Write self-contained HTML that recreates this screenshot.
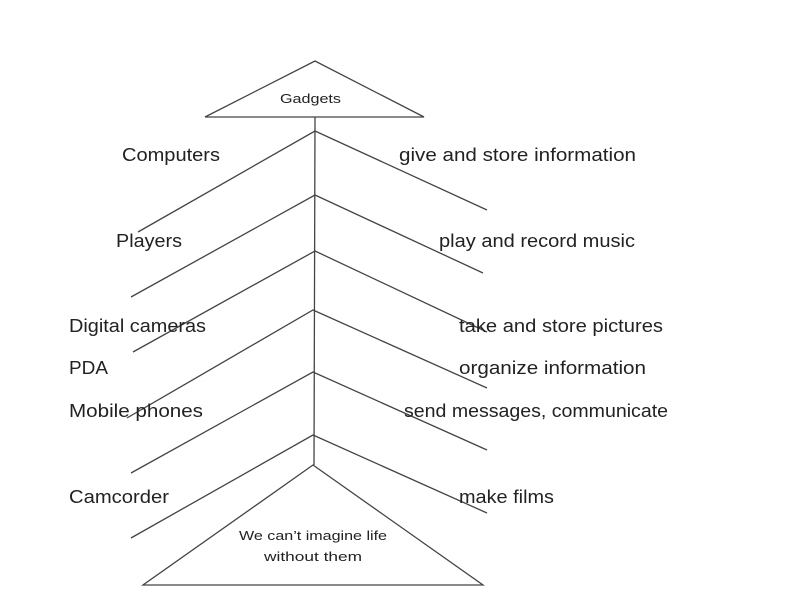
<!DOCTYPE html>
<html><head><meta charset="utf-8"><style>
html,body{margin:0;padding:0;background:#fff;width:800px;height:600px;overflow:hidden}
svg text{font-family:"Liberation Sans",sans-serif;fill:#222}
</style></head><body>
<svg width="800" height="600" viewBox="0 0 800 600" xmlns="http://www.w3.org/2000/svg">
<g stroke="#444" stroke-width="1.3" fill="none">
<polygon points="315,61 205,117 424,117"/>
<line x1="315" y1="117" x2="314" y2="465"/>
<polyline points="138,232 315,131 487,210"/>
<polyline points="131,297 315,195 483,273"/>
<polyline points="133,352 315,251 487,332"/>
<polyline points="127,418 313,310 487,388"/>
<polyline points="131,473 313,372 487,450"/>
<polyline points="131,538 313,435 487,513"/>
<polygon points="313,465 143,585 483,585"/>
</g>
<g font-size="18">
<text x="122" y="161" textLength="98" lengthAdjust="spacingAndGlyphs">Computers</text>
<text x="116" y="247" textLength="66" lengthAdjust="spacingAndGlyphs">Players</text>
<text x="69" y="332" textLength="137" lengthAdjust="spacingAndGlyphs">Digital cameras</text>
<text x="69" y="374" textLength="39" lengthAdjust="spacingAndGlyphs">PDA</text>
<text x="69" y="417" textLength="134" lengthAdjust="spacingAndGlyphs">Mobile phones</text>
<text x="69" y="503" textLength="100" lengthAdjust="spacingAndGlyphs">Camcorder</text>
<text x="399" y="161" textLength="237" lengthAdjust="spacingAndGlyphs">give and store information</text>
<text x="439" y="247" textLength="196" lengthAdjust="spacingAndGlyphs">play and record music</text>
<text x="459" y="332" textLength="204" lengthAdjust="spacingAndGlyphs">take and store pictures</text>
<text x="459" y="374" textLength="187" lengthAdjust="spacingAndGlyphs">organize information</text>
<text x="404" y="417" textLength="264" lengthAdjust="spacingAndGlyphs">send messages, communicate</text>
<text x="459" y="503" textLength="95" lengthAdjust="spacingAndGlyphs">make films</text>
</g>
<g font-size="13">
<text x="280" y="103" textLength="61" lengthAdjust="spacingAndGlyphs">Gadgets</text>
<text x="239" y="540" textLength="148" lengthAdjust="spacingAndGlyphs">We can’t imagine life</text>
<text x="264" y="561" textLength="98" lengthAdjust="spacingAndGlyphs">without them</text>
</g>
</svg>
</body></html>
